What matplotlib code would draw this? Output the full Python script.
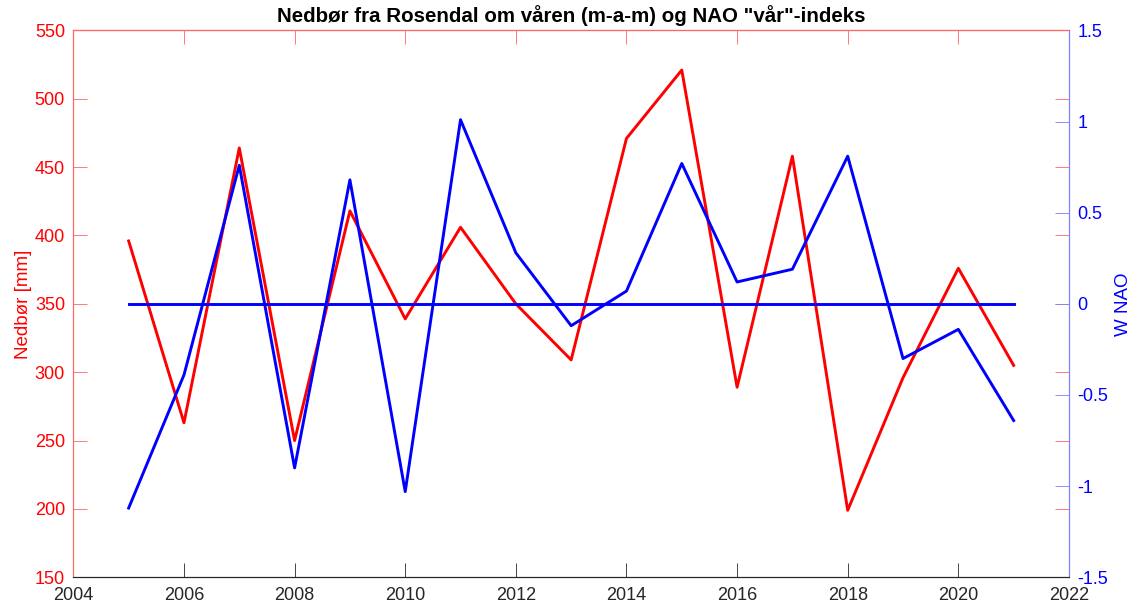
import matplotlib
matplotlib.use("Agg")
import matplotlib.pyplot as plt

# Data
years = [2005, 2006, 2007, 2008, 2009, 2010, 2011, 2012, 2013,
         2014, 2015, 2016, 2017, 2018, 2019, 2020, 2021]
nedbor = [396, 263, 464, 250, 418, 339, 406, 350, 309,
          471, 521, 289, 458, 199, 296, 376, 305]
nao = [-1.12, -0.39, 0.76, -0.90, 0.68, -1.03, 1.01, 0.28, -0.12,
       0.07, 0.77, 0.12, 0.19, 0.81, -0.30, -0.14, -0.64]
zero_line = [0.0] * len(years)

x_ticks = list(range(2004, 2023, 2))
left_ticks = list(range(150, 551, 50))
right_ticks = [-1.5, -1, -0.5, 0, 0.5, 1, 1.5]
right_labels = ["-1.5", "-1", "-0.5", "0", "0.5", "1", "1.5"]

plt.rcParams["font.family"] = ["Liberation Sans", "DejaVu Sans"]

RED = "#ff0000"
BLUE = "#0000ff"
DARK = "#262626"
LIGHT_RED = "#ff6666"
LIGHT_BLUE = "#7f7fff"

fig = plt.figure(figsize=(11.39, 6.08), dpi=100)
ax = fig.add_axes([0.0644, 0.0505, 0.8741, 0.8995])
ax2 = ax.twinx()

# -----------------------------------------------------------------------------
# 1. Lines
# -----------------------------------------------------------------------------
ax.plot(years, nedbor, color=RED, linewidth=2.1)
ax2.plot(years, nao, color=BLUE, linewidth=2.1)
ax2.plot(years, zero_line, color=BLUE, linewidth=2.1)

# -----------------------------------------------------------------------------
# 2. Axes limits and ticks
# -----------------------------------------------------------------------------
ax.set_xlim(2004, 2022)
ax.set_ylim(150, 550)
ax2.set_ylim(-1.5, 1.5)

ax.set_xticks(x_ticks)
ax.set_yticks(left_ticks)
ax2.set_yticks(right_ticks)
ax2.set_yticklabels(right_labels)

ax.tick_params(axis="x", direction="in", length=10, width=0.6, top=False,
               color=DARK, labelcolor=DARK, labelsize=13, pad=7)
ax.tick_params(axis="y", direction="in", length=10, width=0.6, right=True,
               color=LIGHT_RED, labelcolor=RED, labelsize=13, pad=6)
ax2.tick_params(axis="y", direction="in", length=10, width=0.6,
                color=LIGHT_BLUE, labelcolor=BLUE, labelsize=13, pad=6)

# top ticks in red, no labels
top = ax.secondary_xaxis("top")
top.set_xticks(x_ticks)
top.tick_params(direction="in", length=10, width=0.6, color=LIGHT_RED,
                labeltop=False)
top.spines["top"].set_color(LIGHT_RED)
top.spines["top"].set_linewidth(0.8)

# -----------------------------------------------------------------------------
# 3. Spines
# -----------------------------------------------------------------------------
for a in (ax, ax2):
    a.spines["left"].set_color(LIGHT_RED)
    a.spines["top"].set_color(LIGHT_RED)
    a.spines["bottom"].set_color(DARK)
    a.spines["right"].set_color(LIGHT_BLUE)
    for s in a.spines.values():
        s.set_linewidth(0.8)

# -----------------------------------------------------------------------------
# 4. Labels and title
# -----------------------------------------------------------------------------
ax.set_ylabel("Nedbør [mm]", color=RED, fontsize=13.5, labelpad=2)
ax2.set_ylabel("W NAO", color=BLUE, fontsize=13.5, labelpad=5)
ax.set_title('Nedbør fra Rosendal om våren (m-a-m) og NAO "vår"-indeks',
             fontsize=14.8, fontweight="bold", color="black", pad=6)

fig.savefig("out.png", dpi=100)
